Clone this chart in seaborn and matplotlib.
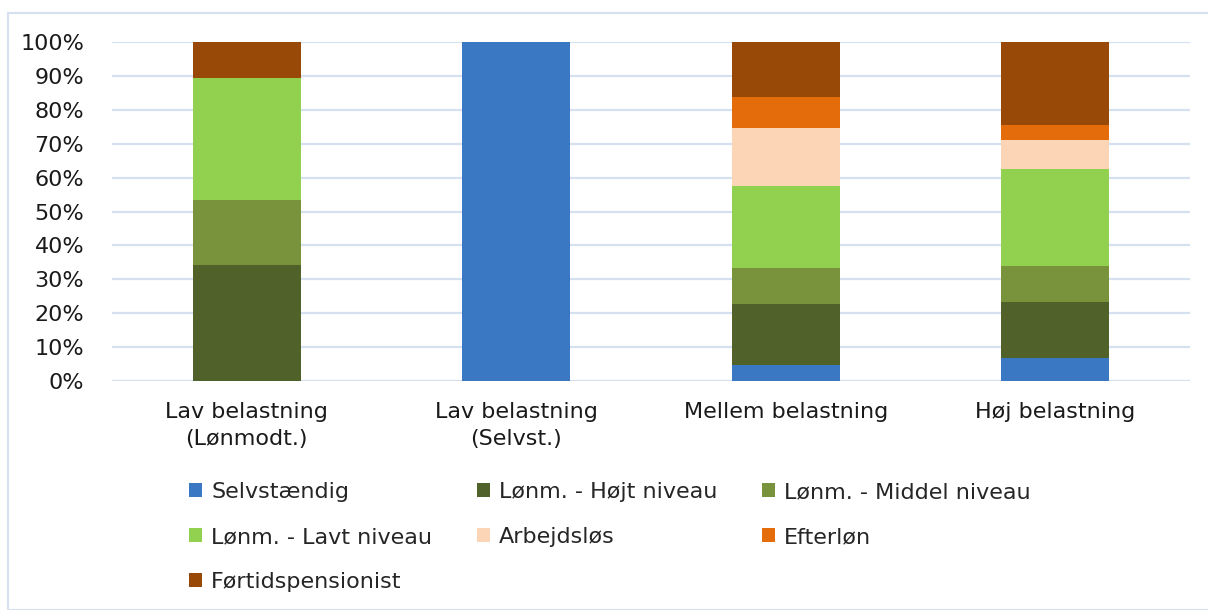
import numpy as np
import pandas as pd
import matplotlib
matplotlib.use("Agg")
import matplotlib.pyplot as plt
import seaborn as sb
from matplotlib.patches import Patch, Rectangle
from matplotlib.ticker import PercentFormatter

categories = ["Lav belastning\n(Lønmodt.)", "Lav belastning\n(Selvst.)",
              "Mellem belastning", "Høj belastning"]

series_names = ["Selvstændig", "Lønm. - Højt niveau", "Lønm. - Middel niveau",
                "Lønm. - Lavt niveau", "Arbejdsløs", "Efterløn", "Førtidspensionist"]

selvstaendig = [0, 100, 4.7, 6.8]
hojt_niveau = [34.2, 0, 18.0, 16.5]
middel_niveau = [19.2, 0, 10.6, 10.6]
lavt_niveau = [36.0, 0, 24.2, 28.6]
arbejdslos = [0, 0, 17.1, 8.6]
efterlon = [0, 0, 9.2, 4.4]
fortidspension = [10.6, 0, 16.2, 24.5]

colors = ["#3a78c3", "#50622a", "#78933c", "#92d050", "#fbd5b5", "#e46c0a", "#984807"]

sb.set_theme(style="white")
plt.rcParams['font.family'] = ['DejaVu Sans']

df = pd.DataFrame({"Kategori": categories})
for name, vals in zip(series_names, [selvstaendig, hojt_niveau, middel_niveau, lavt_niveau,
                                     arbejdslos, efterlon, fortidspension]):
    df[name] = vals

fig = plt.figure(figsize=(12.08, 6.10), dpi=100)
ax = fig.add_axes([112/1208, 1 - 381/610, (1190 - 112)/1208, (381 - 42)/610])

bottom = np.zeros(len(categories))
for name, c in zip(series_names, colors):
    sb.barplot(data=df, x="Kategori", y=name, bottom=bottom, color=c, saturation=1,
               width=0.4, linewidth=0, ax=ax)
    bottom = bottom + df[name].values

ax.set_ylim(0, 100)
ax.set_xlim(-0.5, 3.5)
ax.set_yticks(np.arange(0, 101, 10))
ax.yaxis.set_major_formatter(PercentFormatter(decimals=0))
ax.grid(axis='y', color="#d5e1f1", linewidth=1.6)
ax.set_axisbelow(True)
for s in ax.spines.values():
    s.set_visible(False)
ax.set_xlabel("")
ax.set_ylabel("")
ax.tick_params(axis='y', length=0, pad=20, labelsize=16, labelcolor="#1a1a1a")
ax.tick_params(axis='x', length=0, pad=15, labelsize=16, labelcolor="#1a1a1a")
for t in ax.get_xticklabels():
    t.set_linespacing(1.45)

# excel fills the legend row by row, matplotlib column by column
order = [0, 3, 6, 1, 4, 2, 5]
handles = [Patch(facecolor=colors[i], edgecolor='none') for i in order]
labels = [series_names[i] for i in order]
fig.legend(handles, labels, loc='upper left', ncol=3,
           bbox_to_anchor=(169/1208, 1 - 462/610), frameon=False,
           fontsize=16, handlelength=0.6, handleheight=0.6, handletextpad=0.4,
           columnspacing=2.0, labelspacing=1.12)

fig.patches.append(Rectangle((8/1208, 0), 1.2, 1 - 13/610, transform=fig.transFigure,
                             fill=False, edgecolor="#d5e1f1", linewidth=1.5))

fig.savefig("out.png", dpi=100)
